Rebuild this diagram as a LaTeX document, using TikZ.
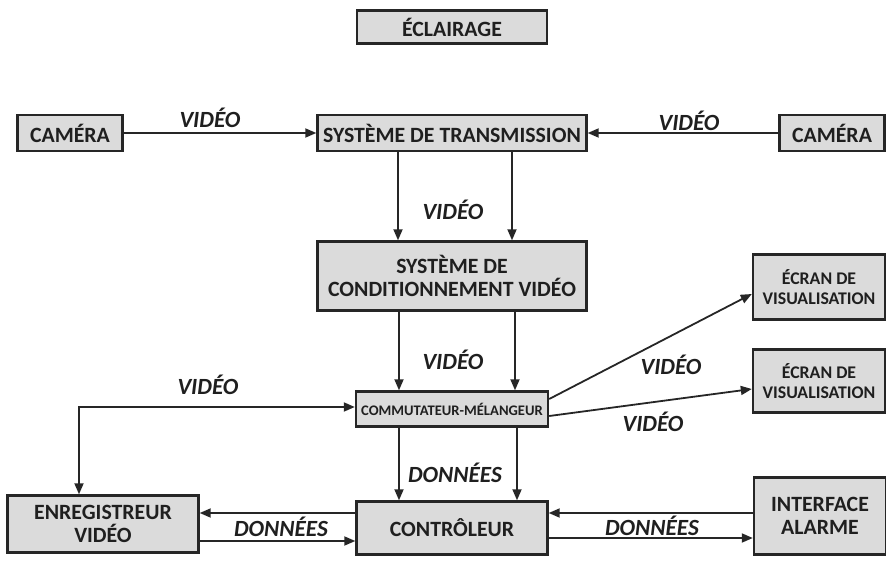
\documentclass[tikz,border=0pt]{standalone}
\usepackage{fontspec}
\setmainfont{Carlito}
\usetikzlibrary{arrows.meta,calc}

\begin{document}
\begin{tikzpicture}[x=1pt, y=-1pt, >={Triangle[length=11pt,width=9pt]},
    bloc/.style={rectangle, draw=black!85, line width=2.4pt, fill=black!14, align=center, inner sep=2pt, font=\fontsize{21.8}{23}\selectfont\bfseries, text=black!88},
    ecran/.style={bloc, font=\fontsize{17.8}{20}\selectfont\bfseries},
    petit/.style={bloc, font=\fontsize{14.6}{16}\selectfont\bfseries},
    lbl/.style={font=\fontsize{23.2}{24}\selectfont\bfseries\itshape, text=black!88},
    arrow/.style={line width=1.8pt, ->, draw=black!85}]

    \useasboundingbox (0,0) rectangle (886,561);

    % boxes
    \node[bloc, minimum width=190pt, minimum height=33pt] at (452,27) (light) {ÉCLAIRAGE};
    \node[bloc, minimum width=105pt, minimum height=36pt] at (70,133) (camL) {CAMÉRA};
    \node[bloc, minimum width=269pt, minimum height=36pt] at (452,133) (trans) {SYSTÈME DE TRANSMISSION};
    \node[bloc, minimum width=105pt, minimum height=36pt] at (832,133) (camR) {CAMÉRA};
    \node[bloc, minimum width=269pt, minimum height=69pt] at (452,276) (cond) {SYSTÈME DE\\CONDITIONNEMENT VIDÉO};
    \node[ecran, minimum width=132pt, minimum height=65pt] at (819,287) (ecr1) {ÉCRAN DE\\VISUALISATION};
    \node[ecran, minimum width=132pt, minimum height=63pt] at (819,381) (ecr2) {ÉCRAN DE\\VISUALISATION};
    \node[petit, minimum width=192pt, minimum height=35pt] at (452,409) (comm) {COMMUTATEUR-MÉLANGEUR};
    \node[bloc, minimum width=191pt, minimum height=57pt] at (103,524) (enr) {ENREGISTREUR\\VIDÉO};
    \node[bloc, minimum width=191pt, minimum height=53pt] at (452,528) (ctrl) {CONTRÔLEUR};
    \node[bloc, minimum width=132pt, minimum height=77pt] at (820,516) (alarm) {INTERFACE\\ALARME};

    % connectors
    \draw[arrow] (camL) -- (trans);
    \draw[arrow] (camR) -- (trans);
    \draw[arrow] ([xshift=-54pt]trans.south) -- ([xshift=-54pt]cond.north);
    \draw[arrow] ([xshift=60pt]trans.south) -- ([xshift=60pt]cond.north);
    \draw[arrow] ([xshift=-53pt]cond.south) -- ([xshift=-53pt]comm.north);
    \draw[arrow] ([xshift=63pt]cond.south) -- ([xshift=63pt]comm.north);
    \draw[arrow] ([yshift=10pt]comm.east) -- ([yshift=-7pt]ecr1.west);
    \draw[arrow] ([yshift=-7pt]comm.east) -- ([yshift=-8pt]ecr2.west);
    \draw[arrow, <->] ([xshift=-24pt]enr.north) |- ([yshift=2pt]comm.west);
    \draw[arrow] ([xshift=-53pt]comm.south) -- ([xshift=-53pt]ctrl.north);
    \draw[arrow] ([xshift=65pt]comm.south) -- ([xshift=65pt]ctrl.north);
    \coordinate (haut) at (0,513);
    \coordinate (basG) at (0,541);
    \coordinate (basD) at (0,538);
    \draw[arrow] (haut -| ctrl.west) -- (haut -| enr.east);
    \draw[arrow] (basG -| enr.east) -- (basG -| ctrl.west);
    \draw[arrow] (haut -| alarm.west) -- (haut -| ctrl.east);
    \draw[arrow] (basD -| ctrl.east) -- (basD -| alarm.west);

    % labels
    \node[lbl] at (210,118) (v1) {VIDÉO};
    \node[lbl] at (689,121) (v2) {VIDÉO};
    \node[lbl] at (453,210) (v3) {VIDÉO};
    \node[lbl] at (453,360) (v4) {VIDÉO};
    \node[lbl] at (208,385) (v5) {VIDÉO};
    \node[lbl] at (671,365) (v6) {VIDÉO};
    \node[lbl] at (653,422) (v7) {VIDÉO};
    \node[lbl] at (455,473) (d1) {DONNÉES};
    \node[lbl] at (281,527) (d2) {DONNÉES};
    \node[lbl] at (652,526) (d3) {DONNÉES};
\end{tikzpicture}
\end{document}
